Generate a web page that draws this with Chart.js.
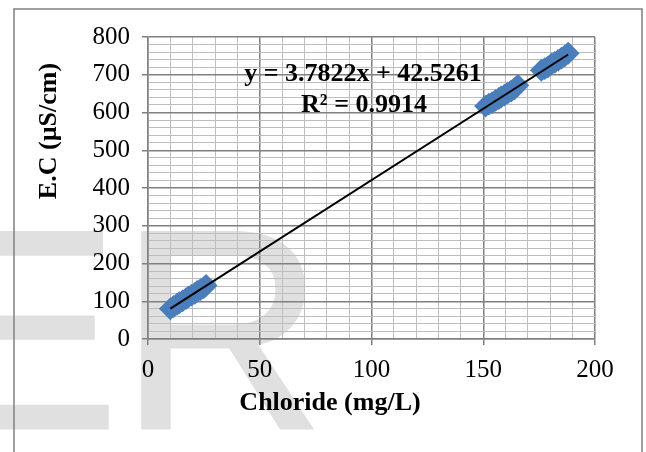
<!DOCTYPE html>
<html>
<head>
<meta charset="utf-8">
<script src="https://cdn.jsdelivr.net/npm/chart.js@4.4.0/dist/chart.umd.min.js"></script>
<style>
  html, body { margin: 0; padding: 0; background: #fff; }
  #wrap { width: 646px; height: 452px; }
</style>
</head>
<body>
<div id="wrap"><canvas id="myChart" width="646" height="452"></canvas></div>
<script>
// chloride (mg/L) against electrical conductivity (µS/cm)
const chloride = [
    10, 11.5, 13, 14, 15.5, 17, 18, 19.5, 21, 22, 23.5, 25, 26,
    151, 152.5, 154, 155.5, 157, 158, 159.5, 161, 162.5, 164, 165.5,
    176, 177.5, 179, 180.5, 182, 183.5, 185, 186.5, 188
];
const conductivity = [
    80, 86, 92, 96, 101, 107, 111, 116, 121, 126, 131, 136, 142,
    617, 622, 626, 632, 637, 641, 646, 652, 657, 663, 672,
    712, 716, 721, 728, 733, 738, 744, 750, 757
];

// linear fit reported on the chart
const slope = 3.7822;
const intercept = 42.5261;
const rSquared = 0.9914;

const xTicks = [0, 50, 100, 150, 200];
const yTicks = [0, 100, 200, 300, 400, 500, 600, 700, 800];
const xMinorStep = 10;
const yMinorStep = 20;

const xTitle = 'Chloride (mg/L)';
const yTitle = 'E.C (µS/cm)';

const ctx = document.getElementById('myChart');

const majorGrid = '#808080';
const minorGrid = '#bdbdbd';

let points = chloride.map((x, i) => ({ x: x, y: conductivity[i] }));
let xLo = Math.min(...chloride);
let xHi = Math.max(...chloride);
let fitLine = [
    { x: xLo, y: slope * xLo + intercept },
    { x: xHi, y: slope * xHi + intercept }
];

function minorTicks(min, max, step) {
    let out = [];
    for (let v = min; v <= max + 1e-9; v += step) out.push({ value: v });
    return out;
}

// big grey letters behind the plot plus the outer frame
const backdrop = {
    id: 'backdrop',
    beforeDraw(chart) {
        const c = chart.ctx;
        c.save();
        c.fillStyle = '#e0e0e0';
        c.strokeStyle = '#e0e0e0';
        c.lineWidth = 3;
        c.lineJoin = 'miter';
        c.font = '284px "Liberation Sans"';
        c.textBaseline = 'alphabetic';
        c.textAlign = 'left';
        c.fillText('ER', -70, 428);
        c.strokeText('ER', -70, 428);

        c.strokeStyle = '#808080';
        c.lineWidth = 1.5;
        c.beginPath();
        c.moveTo(14, 452);
        c.lineTo(14, 9);
        c.lineTo(642, 9);
        c.lineTo(642, 452);
        c.stroke();
        c.restore();
    }
};

// axis titles and the fit equation
const labels = {
    id: 'labels',
    afterDraw(chart) {
        const c = chart.ctx;
        c.save();
        c.fillStyle = '#000';
        c.font = 'bold 26px "Liberation Serif"';
        c.textAlign = 'center';
        c.textBaseline = 'alphabetic';

        c.fillText(xTitle, 330, 410);

        c.save();
        c.translate(56, 131);
        c.rotate(-Math.PI / 2);
        c.fillText(yTitle, 0, 0);
        c.restore();

        c.fillText('y = ' + slope.toFixed(4) + 'x + ' + intercept.toFixed(4), 363, 81);
        c.fillText('R² = ' + rSquared.toFixed(4), 364, 112);
        c.restore();
    }
};

const tickFont = { family: '"Liberation Serif"', size: 25 };

const config = {
    data: {
        datasets: [{
            type: 'line',
            data: fitLine,
            borderColor: '#000',
            borderWidth: 2,
            pointRadius: 0,
            fill: false,
            order: 0
        }, {
            type: 'scatter',
            data: points,
            pointStyle: 'rectRot',
            pointRadius: 10,
            backgroundColor: '#4A7EBB',
            borderColor: '#4A7EBB',
            borderWidth: 2,
            order: 1
        }]
    },
    options: {
        responsive: false,
        animation: false,
        layout: {
            padding: { left: 0, top: 37, right: 51, bottom: 0 }
        },
        scales: {
            x: {
                type: 'linear',
                min: xTicks[0],
                max: xTicks[xTicks.length - 1],
                afterBuildTicks: s => { s.ticks = minorTicks(s.min, s.max, xMinorStep); },
                afterFit: s => { s.height = 113; },
                ticks: {
                    autoSkip: false,
                    maxRotation: 0,
                    padding: 10,
                    color: '#000',
                    font: tickFont,
                    callback: v => xTicks.includes(v) ? String(v) : ''
                },
                grid: {
                    color: c => xTicks.includes(c.tick.value) ? majorGrid : minorGrid,
                    lineWidth: c => xTicks.includes(c.tick.value) ? 1.5 : 1,
                    tickLength: 6,
                    tickColor: c => xTicks.includes(c.tick.value) ? majorGrid : 'rgba(0,0,0,0)'
                },
                border: { color: majorGrid, width: 1.5 }
            },
            y: {
                type: 'linear',
                min: yTicks[0],
                max: yTicks[yTicks.length - 1],
                afterBuildTicks: s => { s.ticks = minorTicks(s.min, s.max, yMinorStep); },
                afterFit: s => { s.width = 148; },
                ticks: {
                    autoSkip: false,
                    padding: 12,
                    color: '#000',
                    font: tickFont,
                    callback: v => yTicks.includes(v) ? String(v) : ''
                },
                grid: {
                    color: c => yTicks.includes(c.tick.value) ? majorGrid : minorGrid,
                    lineWidth: c => yTicks.includes(c.tick.value) ? 1.5 : 1,
                    tickLength: 6,
                    tickColor: c => yTicks.includes(c.tick.value) ? majorGrid : 'rgba(0,0,0,0)'
                },
                border: { color: majorGrid, width: 1.5 }
            }
        },
        plugins: {
            legend: { display: false },
            tooltip: { enabled: false }
        }
    },
    plugins: [backdrop, labels]
};

const myChart = new Chart(ctx, config);
</script>
</body>
</html>
